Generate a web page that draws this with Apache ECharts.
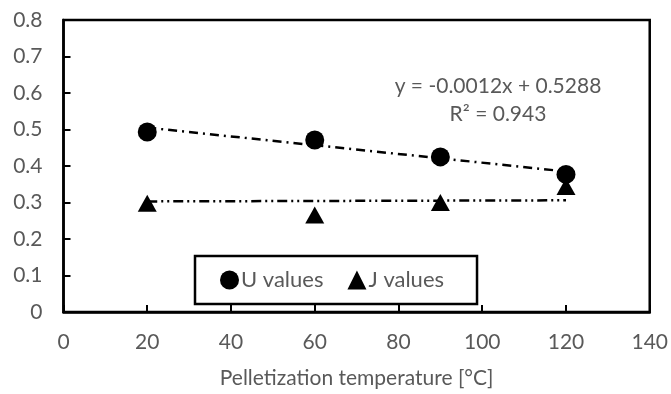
<!DOCTYPE html>
<html><head><meta charset="utf-8">
<script src="https://cdn.jsdelivr.net/npm/echarts@6/dist/echarts.min.js"></script>
<style>html,body{margin:0;padding:0;background:#fff}#c{width:671px;height:394px}</style>
</head><body><div id="c"></div>
<script>
var temps = [20, 60, 90, 120];
var uValues = [0.493, 0.471, 0.425, 0.377];
var jValues = [0.298, 0.266, 0.300, 0.344];
var trendX = [20, 120];
var uTrend = [0.505, 0.385];
var jTrend = [0.303, 0.306];
var xTicks = [0, 20, 40, 60, 80, 100, 120, 140];
var yTicks = [0, 0.1, 0.2, 0.3, 0.4, 0.5, 0.6, 0.7, 0.8];
var eqText = 'y = -0.0012x + 0.5288';
var r2Text = 'R² = 0.943';

var FONT = 'Lato';
var GRAY = '#595959';
var FS = 21;
function pairs(xs, ys){ return xs.map(function(x,i){ return [x, ys[i]]; }); }

var chart = echarts.init(document.getElementById('c'));
chart.setOption({
  animation: false,
  backgroundColor: '#fff',
  grid: {left: 63.5, right: 20, top: 20, bottom: 79, show: true, borderColor: '#000', borderWidth: 2.5, backgroundColor: 'transparent'},
  xAxis: {
    type: 'value', min: xTicks[0], max: xTicks[xTicks.length-1], interval: 20,
    axisLine: {show: true, lineStyle: {color: '#000', width: 2.5}},
    axisTick: {show: true, inside: true, length: 7, lineStyle: {color: '#000', width: 2}},
    splitLine: {show: false},
    axisLabel: {color: GRAY, fontFamily: FONT, fontSize: FS, margin: 20},
    name: 'Pelletization temperature [°C]', nameLocation: 'middle', nameGap: 56,
    nameTextStyle: {color: GRAY, fontFamily: FONT, fontSize: FS}
  },
  yAxis: {
    type: 'value', min: yTicks[0], max: yTicks[yTicks.length-1], interval: 0.1,
    axisLine: {show: true, lineStyle: {color: '#000', width: 2.5}},
    axisTick: {show: true, inside: true, length: 7, lineStyle: {color: '#000', width: 2}},
    splitLine: {show: false},
    axisLabel: {color: GRAY, fontFamily: FONT, fontSize: FS, margin: 21,
      formatter: function(v){ return String(Math.round(v*10)/10); }}
  },
  legend: {
    data: ['U values', 'J values'],
    left: 195, top: 256,
    orient: 'horizontal',
    borderColor: '#000', borderWidth: 2.5, padding: [13, 33, 13, 25],
    itemWidth: 19, itemHeight: 19, itemGap: 24,
    textStyle: {color: GRAY, fontFamily: FONT, fontSize: 22, padding: [0,0,0,-3]}
  },
  series: [
    {name: 'U trend', type: 'line', data: pairs(trendX, uTrend), symbol: 'none', z: 2,
     lineStyle: {color: '#000', width: 2.5, type: [9, 5, 2, 5]}},
    {name: 'J trend', type: 'line', data: pairs(trendX, jTrend), symbol: 'none', z: 2,
     lineStyle: {color: '#000', width: 2.5, type: [10, 4, 2, 4, 2, 4]}},
    {name: 'U values', type: 'scatter', data: pairs(temps, uValues), symbol: 'circle', symbolSize: 19,
     itemStyle: {color: '#000', opacity: 1}, z: 3},
    {name: 'J values', type: 'scatter', data: pairs(temps, jValues), symbol: 'triangle', symbolSize: [19, 17],
     itemStyle: {color: '#000', opacity: 1}, z: 3}
  ],
  graphic: [
    {type: 'text', style: {text: eqText, x: 498, y: 86, fill: GRAY, font: FS + 'px ' + FONT, textAlign: 'center', textVerticalAlign: 'middle'}},
    {type: 'text', style: {text: r2Text, x: 498, y: 114, fill: GRAY, font: FS + 'px ' + FONT, textAlign: 'center', textVerticalAlign: 'middle'}}
  ]
});
</script></body></html>
